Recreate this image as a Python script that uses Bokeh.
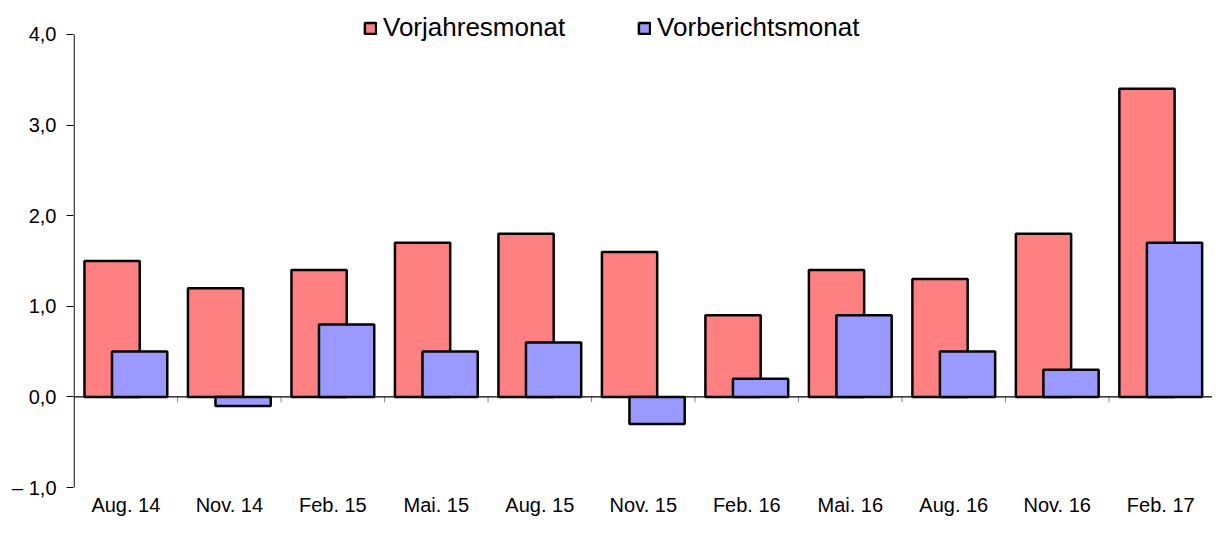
import numpy as np
from bokeh.plotting import figure
from bokeh.models import Range1d, FixedTicker, Legend, LegendItem, Span, ColumnDataSource
from bokeh.embed import file_html
from bokeh.resources import INLINE

# ---- data ----
categories = ["Aug. 14", "Nov. 14", "Feb. 15", "Mai. 15", "Aug. 15", "Nov. 15",
              "Feb. 16", "Mai. 16", "Aug. 16", "Nov. 16", "Feb. 17"]
vorjahresmonat = [1.5, 1.2, 1.4, 1.7, 1.8, 1.6, 0.9, 1.4, 1.3, 1.8, 3.4]
vorberichtsmonat = [0.5, -0.1, 0.8, 0.5, 0.6, -0.3, 0.2, 0.9, 0.5, 0.3, 1.7]
y_ticks = [-1, 0, 1, 2, 3, 4]
y_tick_labels = ["\u2013 1,0", "0,0", "1,0", "2,0", "3,0", "4,0"]
y_min, y_max = -1, 4

FONT = "Liberation Sans"
RED = "#FF8080"
BLUE = "#9999FF"

n = len(categories)
centers = np.arange(n) + 0.5
offset = 0.133
bar_w = 0.534

src = ColumnDataSource(dict(
    xr=centers - offset, xb=centers + offset,
    r=vorjahresmonat, b=vorberichtsmonat))

# headroom above 4.0 so the legend sits inside the frame
p = figure(width=1212, height=518, x_range=Range1d(-0.006, n), y_range=Range1d(y_min, 4.33),
           output_backend="svg", toolbar_location=None,
           min_border_left=73, min_border_right=0, min_border_top=4, min_border_bottom=0)
p.outline_line_color = None
p.grid.visible = False
p.background_fill_color = "white"

r1 = p.vbar(x="xr", top="r", bottom=0, width=bar_w, source=src,
            fill_color=RED, line_color="black", line_width=2.5)
r2 = p.vbar(x="xb", top="b", bottom=0, width=bar_w, source=src,
            fill_color=BLUE, line_color="black", line_width=2.5)

# zero line with boundary ticks
p.add_layout(Span(location=0, dimension="width", line_color="black", line_width=1.2))
bounds = np.arange(1, n)
p.segment(x0=bounds, y0=np.zeros(len(bounds)), x1=bounds, y1=np.full(len(bounds), -0.06),
          line_color="#888888", line_width=1)
# y axis line only from -1 to 4
p.segment(x0=[0], y0=[y_min], x1=[0], y1=[y_max], line_color="black", line_width=1.2)

# y axis
ya = p.yaxis[0]
ya.ticker = FixedTicker(ticks=y_ticks)
ya.major_label_overrides = {t: l for t, l in zip(y_ticks, y_tick_labels)}
ya.major_tick_out = 7
ya.major_tick_in = 0
ya.minor_tick_out = 0
ya.minor_tick_in = 0
ya.axis_line_color = None
ya.major_tick_line_color = "black"
ya.major_label_text_font = FONT
ya.major_label_text_font_size = "20px"
ya.major_label_text_color = "black"
ya.major_label_standoff = 10

# x axis (labels only)
xa = p.xaxis[0]
xa.ticker = FixedTicker(ticks=list(centers))
xa.major_label_overrides = {float(c): l for c, l in zip(centers, categories)}
xa.axis_line_color = None
xa.major_tick_line_color = None
xa.minor_tick_line_color = None
xa.major_tick_out = 0
xa.major_label_text_font = FONT
xa.major_label_text_font_size = "20px"
xa.major_label_text_color = "black"
xa.major_label_standoff = 6

legend = Legend(items=[LegendItem(label="Vorjahresmonat", renderers=[r1]),
                       LegendItem(label="Vorberichtsmonat", renderers=[r2])],
                orientation="horizontal", location=(290, 444),
                glyph_width=14, glyph_height=14, label_standoff=6, spacing=72,
                padding=0, margin=0, border_line_color=None, background_fill_alpha=0,
                label_text_font=FONT, label_text_font_size="26px", label_text_color="black")
p.add_layout(legend, "center")

open("out.html", "w").write(file_html(p, INLINE))
